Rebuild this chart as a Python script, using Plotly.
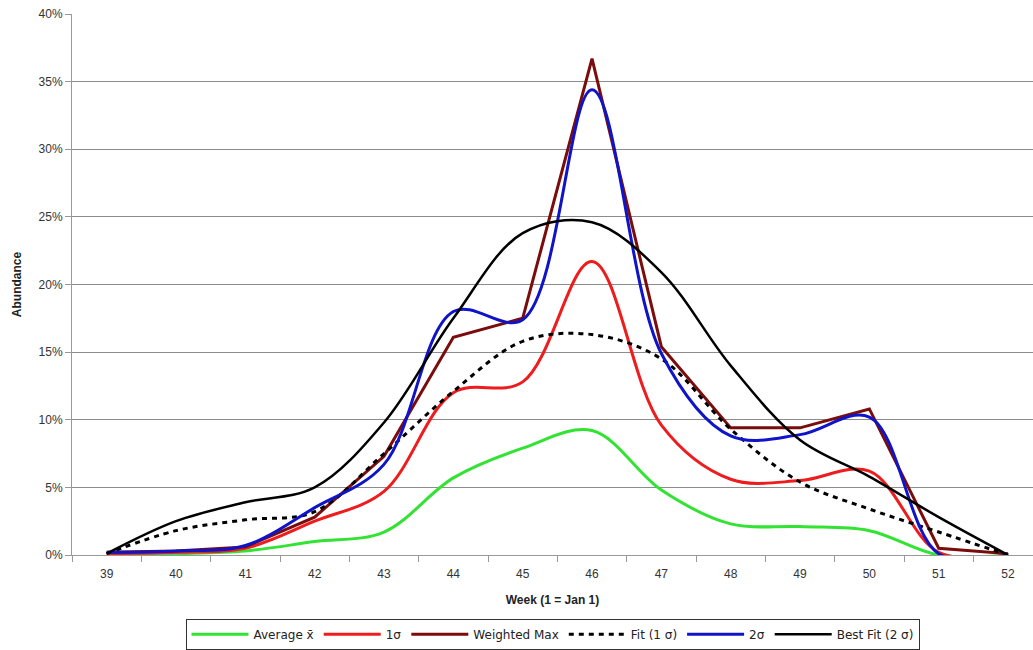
import plotly.graph_objects as go

# Week numbers (1 = Jan 1)
weeks = [39, 40, 41, 42, 43, 44, 45, 46, 47, 48, 49, 50, 51, 52]

# Abundance per week, in percent
average = [0.0, 0.1, 0.3, 1.0, 1.7, 5.7, 7.9, 9.2, 4.8, 2.3, 2.1, 1.8, 0.0, 0.0]
sigma1 = [0.1, 0.2, 0.5, 2.5, 4.7, 12.0, 12.8, 21.7, 9.6, 5.6, 5.5, 6.2, 0.2, 0.0]
weighted_max = [0.2, 0.3, 0.6, 2.8, 7.3, 16.1, 17.5, 36.7, 15.4, 9.4, 9.4, 10.8, 0.5, 0.1]
fit_1sigma = [0.1, 1.8, 2.6, 3.2, 7.5, 12.1, 15.8, 16.3, 14.5, 9.3, 5.4, 3.4, 1.7, 0.0]
sigma2 = [0.2, 0.3, 0.7, 3.5, 6.7, 18.0, 17.4, 34.4, 14.9, 8.8, 8.9, 10.2, 0.1, 0.0]
best_fit = [0.1, 2.5, 3.9, 5.0, 9.8, 17.5, 23.8, 24.6, 20.9, 14.0, 8.5, 5.8, 2.8, 0.0]

y_ticks = [0, 5, 10, 15, 20, 25, 30, 35, 40]
y_tick_labels = [f"{v}%" for v in y_ticks]

series = [
    ("Average x\u0304", average, dict(color="#33e333", width=3), "spline"),
    ("1\u03c3", sigma1, dict(color="#ee1c1c", width=3), "spline"),
    ("Weighted Max", weighted_max, dict(color="#7b0c0c", width=3), "linear"),
    ("Fit (1 \u03c3)", fit_1sigma, dict(color="#000000", width=3, dash="5px,5px"), "spline"),
    ("2\u03c3", sigma2, dict(color="#0f14c8", width=3), "spline"),
    ("Best Fit (2 \u03c3)", best_fit, dict(color="#000000", width=2.5), "spline"),
]

fig = go.Figure()
for name, values, line, shape in series:
    line = dict(line, shape=shape)
    if shape == "spline":
        line["smoothing"] = 1.0
    fig.add_trace(go.Scatter(x=weeks, y=values, mode="lines", name=name, line=line))

axis_font = dict(family="Liberation Sans, Arial, sans-serif", size=12, color="#333")

fig.update_layout(
    width=1033,
    height=650,
    margin=dict(l=72, r=0, t=14, b=91),
    paper_bgcolor="white",
    plot_bgcolor="white",
    showlegend=True,
    legend=dict(
        orientation="h",
        x=0.5,
        xanchor="center",
        y=-0.118,
        yanchor="top",
        bordercolor="#333",
        borderwidth=1,
        font=dict(family="DejaVu Sans, Verdana, sans-serif", size=12, color="#222"),
        itemwidth=57,
        tracegroupgap=0,
    ),
    xaxis=dict(
        range=[38.5, 52.36],
        tickmode="array",
        tickvals=weeks,
        ticktext=[str(w) for w in weeks],
        ticks="",
        ticklabelstandoff=8,
        automargin=False,
        showgrid=False,
        zeroline=False,
        showline=True,
        linecolor="#999",
        linewidth=1,
        tickfont=axis_font,
        minor=dict(ticks="outside", tick0=38.5, dtick=1, ticklen=6, tickcolor="#999", showgrid=False),
        title=dict(
            text="<b>Week (1 = Jan 1)</b>",
            font=dict(family="Liberation Sans Narrow, Liberation Sans, Arial, sans-serif", size=12, color="#222"),
            standoff=15,
        ),
    ),
    yaxis=dict(
        range=[0, 40],
        tickmode="array",
        tickvals=y_ticks,
        ticktext=y_tick_labels,
        ticks="outside",
        ticklen=6,
        tickcolor="#999",
        automargin=False,
        showgrid=True,
        gridcolor="#8c8c8c",
        gridwidth=1,
        zeroline=False,
        showline=True,
        linecolor="#999",
        linewidth=1,
        tickfont=axis_font,
        title=dict(
            text="<b>Abundance</b>",
            font=dict(family="Liberation Sans, Arial, sans-serif", size=12, color="#222"),
            standoff=14,
        ),
    ),
)

fig.write_html("out.html")
